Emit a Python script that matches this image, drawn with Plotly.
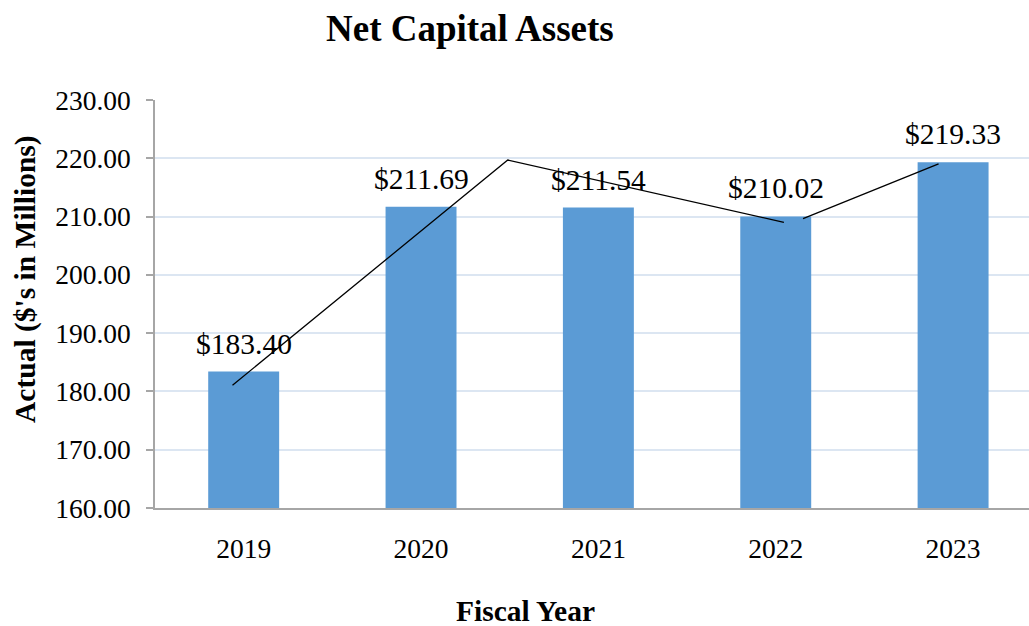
import plotly.graph_objects as go

# Fiscal years and net capital assets ($ millions)
years = ["2019", "2020", "2021", "2022", "2023"]
net_assets = [183.40, 211.69, 211.54, 210.02, 219.33]

# Trend overlay path (x in category positions, y in $ millions); None breaks the path
trend_x = [-0.063, 1.489, 3.046, None, 3.154, 3.918]
trend_y = [181.07, 219.70, 209.02, None, 209.66, 219.05]

y_ticks = [160, 170, 180, 190, 200, 210, 220, 230]

serif = "Liberation Serif"
positions = list(range(len(years)))

# plot-area geometry in pixels
PL, PT, PW, PH = 155, 100, 874, 408

fig = go.Figure()

fig.add_trace(go.Bar(
    x=positions,
    y=net_assets,
    width=0.4,
    marker=dict(color="#5B9BD5", line=dict(width=0)),
    hoverinfo="skip",
))

fig.add_trace(go.Scatter(
    x=trend_x,
    y=trend_y,
    mode="lines",
    line=dict(color="black", width=1.3),
    connectgaps=False,
    hoverinfo="skip",
))

annotations = [
    dict(text="<b>Net Capital Assets</b>", xref="paper", yref="paper",
         x=(470 - PL) / PW, y=1 + (PT - 29) / PH, xanchor="center", yanchor="middle",
         showarrow=False, font=dict(family=serif, size=37, color="black")),
    dict(text="<b>Fiscal Year</b>", xref="paper", yref="paper",
         x=(525 - PL) / PW, y=-(611 - PT - PH) / PH, xanchor="center", yanchor="middle",
         showarrow=False, font=dict(family=serif, size=29.5, color="black")),
    dict(text="<b>Actual ($'s in Millions)</b>", xref="paper", yref="paper",
         x=-(PL - 25) / PW, y=(PT + PH - 279) / PH, xanchor="center", yanchor="middle",
         textangle=-90, showarrow=False, font=dict(family=serif, size=29.5, color="black")),
]
# value labels above each bar
for xi, v in zip(positions, net_assets):
    annotations.append(dict(
        x=xi, y=v, xref="x", yref="y", text=f"${v:.2f}", showarrow=False,
        yanchor="middle", yshift=28,
        font=dict(family=serif, size=29.5, color="black"),
    ))

fig.update_layout(
    width=1029, height=626,
    margin=dict(l=PL, r=0, t=PT, b=626 - PT - PH),
    plot_bgcolor="white", paper_bgcolor="white",
    showlegend=False,
    annotations=annotations,
)

fig.update_xaxes(
    range=[-0.5, 4.428],
    tickmode="array", tickvals=positions, ticktext=years,
    showgrid=False, zeroline=False,
    showline=True, linecolor="#A6A6A6", linewidth=1.5,
    ticks="", ticklabelstandoff=15,
    tickfont=dict(family=serif, size=27.5, color="black"),
)

fig.update_yaxes(
    range=[160, 230],
    tickmode="array", tickvals=y_ticks, ticktext=[f"{t:.2f}" for t in y_ticks],
    showgrid=True, gridcolor="#DCE6F2", gridwidth=1.5, zeroline=False,
    showline=True, linecolor="#A6A6A6", linewidth=1.5,
    ticks="outside", ticklen=7, tickcolor="#A6A6A6", tickwidth=1.5,
    ticklabelstandoff=10,
    tickfont=dict(family=serif, size=27.5, color="black"),
)

fig.write_html("out.html")
